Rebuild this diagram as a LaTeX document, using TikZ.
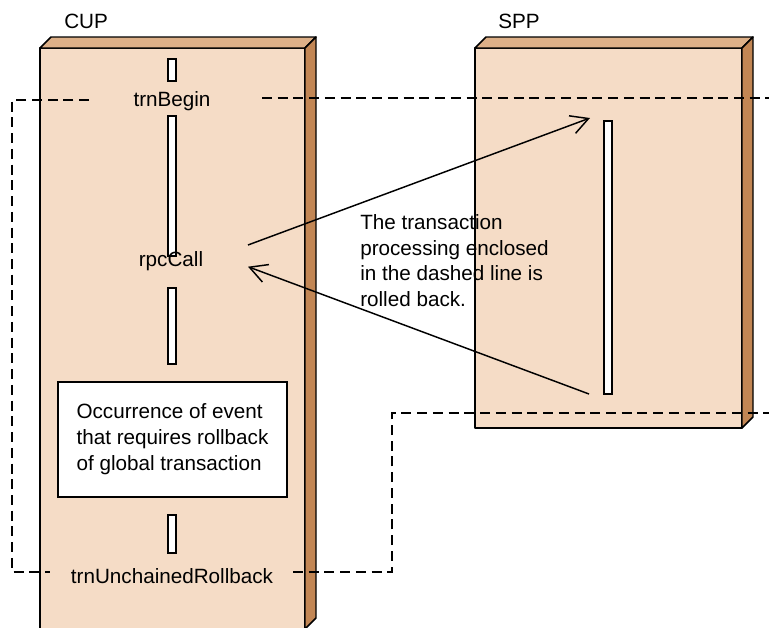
\documentclass[tikz,border=0pt]{standalone}
\usepackage{fontspec}
\setmainfont{Liberation Sans}
\usetikzlibrary{arrows.meta,positioning}
\definecolor{BlockFront}{RGB}{245,220,198}
\definecolor{BlockTop}{RGB}{221,176,136}
\definecolor{BlockSide}{RGB}{194,134,84}
\tikzset{
  face/.style={draw=black, line width=1.1pt, line join=round},
  lifebar/.style={draw=black, fill=white, line width=0.9pt, minimum width=6pt,
                  inner sep=0pt},
  txt/.style={font=\fontsize{15.5}{19.4}\selectfont, inner sep=0pt},
  eventbox/.style={draw=black, fill=white, line width=1.1pt, minimum width=171.75pt,
                   minimum height=86.25pt, align=left, inner sep=0pt,
                   font=\fontsize{15.5}{19.4}\selectfont},
  msg/.style={-{Straight Barb[length=13pt,width=14pt]}, line width=1.1pt},
  boundary/.style={dash pattern=on 7.5pt off 4.3pt, line width=1.1pt},
}

\begin{document}
\begin{tikzpicture}[x=0.75pt,y=-0.75pt]
  \useasboundingbox (0,0) rectangle (769,628);
  \clip (0,0) rectangle (769,628);

  % CUP
  \filldraw[face, fill=BlockFront] (40,48) rectangle (305,629);
  \filldraw[face, fill=BlockTop] (40,48) -- (51,37) -- (316,37) -- (305,48) -- cycle;
  \filldraw[face, fill=BlockSide] (305,48) -- (316,37) -- (316,618) -- (305,629) -- cycle;

  % SPP
  \filldraw[face, fill=BlockFront] (475,48) rectangle (742,428);
  \filldraw[face, fill=BlockTop] (475,48) -- (486,37) -- (753,37) -- (742,48) -- cycle;
  \filldraw[face, fill=BlockSide] (742,48) -- (753,37) -- (753,417) -- (742,428) -- cycle;

  \node[txt, anchor=base west] (cup) at (64,28) {CUP};
  \node[txt, anchor=base west] (spp) at (498,28) {SPP};

  % rollback range
  \draw[boundary] (89,100) -- (12,100) -- (12,572) -- (50,572);
  \draw[boundary] (262,98) -- (769,98);
  \draw[boundary] (293,572) -- (392,572) -- (392,413) -- (769,413);

  % CUP processing
  \node[lifebar, minimum height=16.5pt] (bar1) at (172,70) {};
  \node[txt, anchor=base] (trnBegin) at (172,106) {trnBegin};
  \node[lifebar, minimum height=105pt] (bar2) at (172,186) {};
  \node[txt, anchor=base] (rpcCall) at (171,266.7) {rpcCall};
  \node[lifebar, minimum height=57pt] (bar3) at (172,326) {};
  \node[eventbox] (event) at (172.5,439.5)
    {Occurrence of event\\that requires rollback\\of global transaction};
  \node[lifebar, minimum height=28.5pt] (bar4) at (172,534) {};
  \node[txt, anchor=base] (rollback) at (172,583) {trnUnchainedRollback};

  % SPP processing
  \node[lifebar, minimum height=204.75pt] (sppbar) at (608,257.5) {};

  % call and return
  \coordinate (callStart) at (248,245);
  \coordinate (callEnd) at (590,118);
  \coordinate (retStart) at (589,394);
  \coordinate (retEnd) at (248,266.7);
  \draw[msg] (callStart) -- (callEnd);
  \draw[msg] (retStart) -- (retEnd);

  \node[txt, align=left, anchor=north west] (note) at (360,214)
    {The transaction\\processing enclosed\\in the dashed line is\\rolled back.};
\end{tikzpicture}
\end{document}
